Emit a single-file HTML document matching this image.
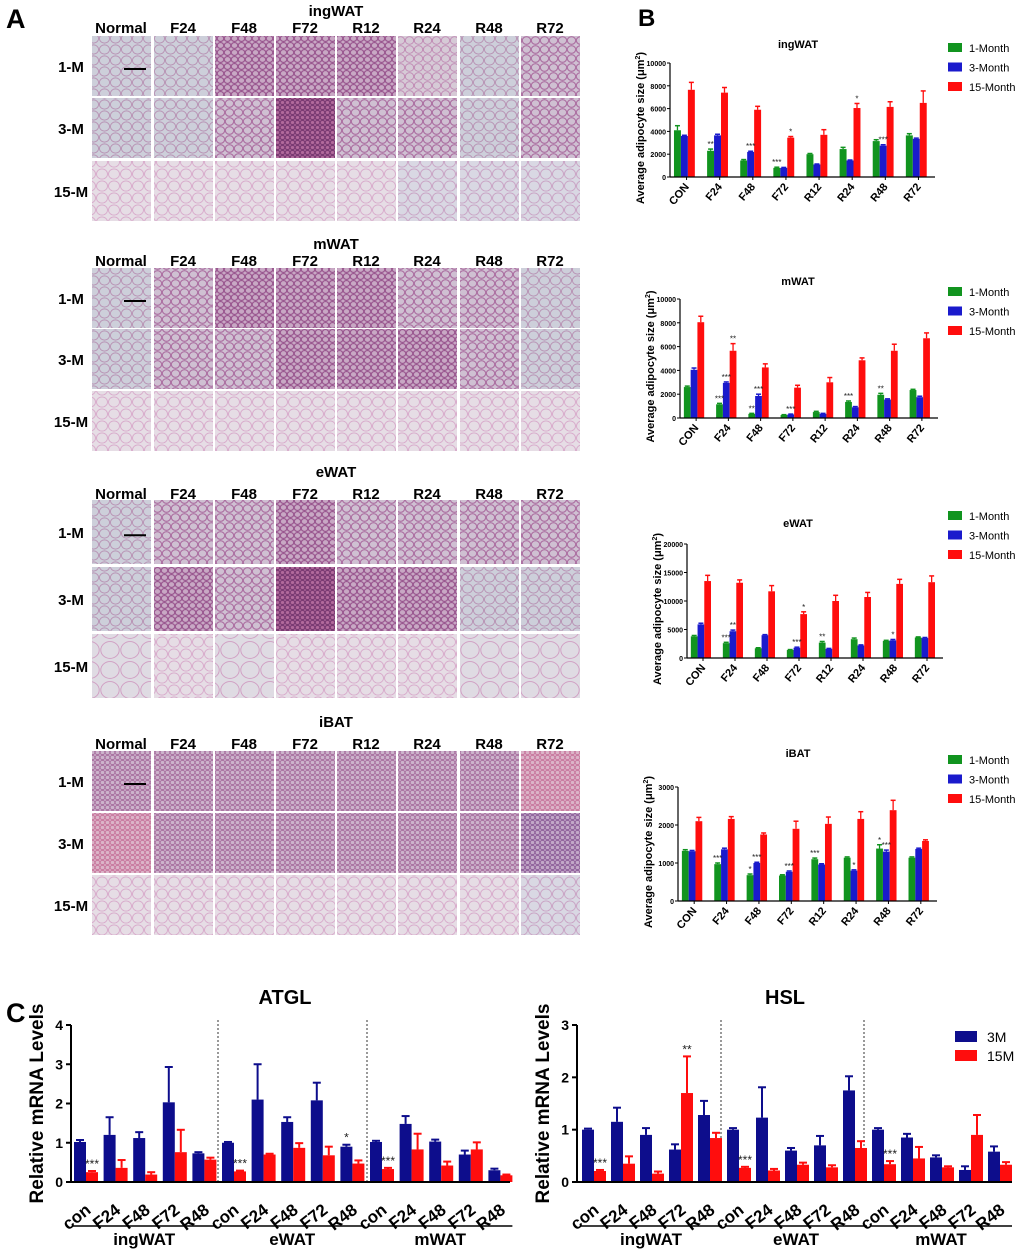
<!DOCTYPE html>
<html><head><meta charset="utf-8"><style>
html,body{margin:0;padding:0;background:#fff}
svg{display:block;font-family:"Liberation Sans",Arial,sans-serif}
</style></head><body>
<svg id="fig" width="1020" height="1253" viewBox="0 0 1020 1253" xmlns="http://www.w3.org/2000/svg">
<defs id="defs"></defs>
<g id="panelA"></g>
<g id="panelB"></g>
<g id="panelC"></g>
<text x="6" y="28" font-size="27" font-weight="bold">A</text>
<text x="638" y="26" font-size="24" font-weight="bold">B</text>
<text x="6" y="1022" font-size="27" font-weight="bold">C</text>
</svg>
<script>
// ---------- Panel B data ----------
const groupsB = ["CON","F24","F48","F72","R12","R24","R48","R72"];
const seriesNamesB = ["1-Month","3-Month","15-Month"];
const ing1M = [4100,2300,1450,800,2000,2450,3150,3650];
const ing3M = [3600,3650,2200,800,1100,1450,2750,3350];
const ing15M = [7650,7400,5900,3450,3700,6050,6150,6500];
const ing1Merr = [400,150,80,60,60,150,120,150];
const ing3Merr = [60,100,60,40,40,40,80,60];
const ing15Merr = [650,450,300,100,450,400,450,1050];
const mw1M = [2600,1150,350,250,500,1350,1950,2350];
const mw3M = [4050,2950,1850,300,350,900,1550,1750];
const mw15M = [8050,5650,4250,2550,3000,4850,5650,6700];
const mw1Merr = [80,80,40,30,60,80,120,60];
const mw3Merr = [150,80,150,30,40,60,60,80];
const mw15Merr = [500,600,300,200,400,200,550,450];
const ew1M = [3800,2600,1700,1400,2700,3300,3000,3600];
const ew3M = [5900,4700,4000,1800,1600,2200,3100,3500];
const ew15M = [13500,13200,11700,7700,10000,10700,13000,13300];
const ew1Merr = [150,150,100,80,200,200,100,100];
const ew3Merr = [200,200,100,100,80,100,150,100];
const ew15Merr = [1000,500,1000,400,1000,800,800,1100];
const ib1M = [1320,970,680,670,1100,1140,1380,1140];
const ib3M = [1310,1360,1000,770,960,800,1300,1370];
const ib15M = [2100,2160,1750,1900,2030,2160,2390,1580];
const ib1Merr = [30,30,30,20,30,20,100,20];
const ib3Merr = [20,30,20,20,20,20,40,20];
const ib15Merr = [100,60,40,200,180,190,260,30];
const ingTicks = [0,2000,4000,6000,8000,10000];
const mwTicks = [0,2000,4000,6000,8000,10000];
const ewTicks = [0,5000,10000,15000,20000];
const ibTicks = [0,1000,2000,3000];
// significance marks: [series, group, text]
const ingStars = [[0,1,"**"],[1,2,"***"],[0,3,"***"],[2,3,"*"],[2,5,"*"],[1,6,"***"]];
const mwStars = [[0,1,"***"],[1,1,"***"],[2,1,"**"],[0,2,"**"],[1,2,"***"],[1,3,"***"],[0,5,"***"],[0,6,"**"]];
const ewStars = [[0,1,"***"],[1,1,"**"],[1,3,"***"],[2,3,"*"],[0,4,"**"],[1,6,"*"]];
const ibStars = [[0,1,"***"],[0,2,"*"],[1,2,"***"],[1,3,"***"],[0,4,"***"],[1,5,"*"],[0,6,"*"],[1,6,"***"]];

// ---------- Panel C data ----------
const tissuesC = ["ingWAT","eWAT","mWAT"];
const groupsC = ["con","F24","F48","F72","R48"];
const atgl3M = [1.02,1.2,1.12,2.03,0.73, 1.0,2.1,1.53,2.08,0.9, 1.02,1.48,1.03,0.7,0.3];
const atgl3Merr = [0.05,0.45,0.15,0.9,0.03, 0.02,0.9,0.12,0.45,0.05, 0.03,0.2,0.05,0.1,0.04];
const atgl15M = [0.25,0.36,0.19,0.76,0.57, 0.27,0.7,0.87,0.68,0.47, 0.33,0.83,0.42,0.83,0.17];
const atgl15Merr = [0.03,0.2,0.06,0.57,0.05, 0.02,0.02,0.12,0.22,0.08, 0.03,0.4,0.1,0.18,0.02];
const hsl3M = [1.0,1.15,0.9,0.62,1.28, 1.0,1.23,0.6,0.7,1.75, 1.0,0.85,0.47,0.23,0.58];
const hsl3Merr = [0.02,0.27,0.13,0.1,0.27, 0.03,0.58,0.05,0.18,0.27, 0.03,0.07,0.04,0.07,0.1];
const hsl15M = [0.21,0.35,0.16,1.7,0.84, 0.27,0.22,0.33,0.28,0.65, 0.34,0.45,0.28,0.9,0.33];
const hsl15Merr = [0.02,0.14,0.04,0.7,0.1, 0.02,0.03,0.04,0.04,0.13, 0.06,0.22,0.02,0.38,0.05];
const atglTicks = [0,1,2,3,4];
const hslTicks = [0,1,2,3];
const atglStars = [[1,0,"***"],[1,5,"***"],[0,9,"*"],[1,10,"***"]];
const hslStars = [[1,0,"***"],[1,3,"**"],[1,5,"***"],[1,10,"***"]];

// ---------- Panel A tile types ----------
const colsA = ["Normal","F24","F48","F72","R12","R24","R48","R72"];
const rowsA = ["1-M","3-M","15-M"];
const ingTiles = ["nnddd" + "lnm","nnmDmmnm","pppppqqq"];
const mwTiles = ["nmdddmmn","nmmdddmn","pppppppp"];
const ewTiles = ["nmmdmmmm","ndmDddnn","LpLpppLL"];
const ibTiles = ["bbbbbbbr","rbbbbbbc","pppppppq"];

const NS="http://www.w3.org/2000/svg";
const svg=document.getElementById('fig');
const defs=document.getElementById('defs');
function mk(tag,attrs,parent){const e=document.createElementNS(NS,tag);for(const k in attrs)e.setAttribute(k,attrs[k]);(parent||svg).appendChild(e);return e;}
function txt(parent,x,y,s,attrs){const t=mk('text',Object.assign({x:x,y:y},attrs||{}),parent);t.textContent=s;return t;}

const tileStyles={
 n:{bg:"#cdcfda",st:"#b892b4",sz:11,sw:0.9},
 l:{bg:"#d6cad6",st:"#c08ab4",sz:9,sw:0.9},
 m:{bg:"#cfc0d2",st:"#ac70a2",sz:9,sw:1.1},
 d:{bg:"#c8a8c4",st:"#9a5890",sz:7,sw:1.2},
 D:{bg:"#b26a9c",st:"#7a3a72",sz:5,sw:1.2},
 p:{bg:"#e6dde5",st:"#d8aacb",sz:12,sw:0.9},
 q:{bg:"#d9d8e3",st:"#c9a2c4",sz:12,sw:0.9},
 L:{bg:"#dfdbe3",st:"#d09cc2",sz:20,sw:0.9},
 b:{bg:"#cdb4cc",st:"#a8709f",sz:5,sw:0.9},
 r:{bg:"#dcb4c8",st:"#c8789e",sz:5,sw:1},
 c:{bg:"#c2a8c8",st:"#8e609a",sz:5,sw:1}
};
for(const k in tileStyles){
 const s=tileStyles[k];
 const p=mk('pattern',{id:'pat-'+k,width:s.sz,height:s.sz,patternUnits:'userSpaceOnUse'},defs);
 mk('rect',{width:s.sz,height:s.sz,fill:s.bg},p);
 mk('ellipse',{cx:s.sz/2,cy:s.sz/2,rx:s.sz*0.46,ry:s.sz*0.42,fill:'none',stroke:s.st,'stroke-width':s.sw},p);
}

const colX=[92,154,215,276,337,398,460,521];
const gA=document.getElementById('panelA');
function grid(title,titleY,headerY,rowYs,rowH,tiles,secName){
 const g=mk('g',{},gA);
 
 
 const t=txt(g,336,titleY,title,{'font-size':15,'font-weight':'bold','text-anchor':'middle'});
 
 
 colsA.forEach((c,i)=>{
  const h=txt(g,colX[i]+29,headerY,c,{'font-size':15,'font-weight':'bold','text-anchor':'middle'});
  
  
 });
 rowsA.forEach((r,ri)=>{
  const l=txt(g,71,rowYs[ri]+rowH/2+6,r,{'font-size':15,'font-weight':'bold','text-anchor':'middle'});
  
  
  const codes=tiles[ri];
  for(let ci=0;ci<8;ci++){
   const rc=mk('rect',{x:colX[ci],y:rowYs[ri],width:59,height:rowH,fill:'url(#pat-'+codes[ci]+')'},g);
   
   
  }
 });
 const sb=mk('line',{x1:124,x2:146,y1:rowYs[0]+rowH*0.55,y2:rowYs[0]+rowH*0.55,stroke:'#000','stroke-width':2},g);
 
 
}
grid("ingWAT",16,33,[36,98,161],60,ingTiles,"ingwat");
grid("mWAT",249,266,[268,329,391],60,mwTiles,"mwat");
grid("eWAT",477,499,[500,567,634],64,ewTiles,"ewat");
grid("iBAT",727,749,[751,813,875],60,ibTiles,"ibat");

// ---------- Panel B charts ----------
const gB=document.getElementById('panelB');
const colB=["#11941f","#1a1acc","#ff0d0d"];
function chartB(name,ax,top,bot,endX,maxV,ticks,vals,errs,stars,titleY,legY){
 const g=mk('g',{},gB);
 
 
 const ys=v=>bot-(v/maxV)*(bot-top);
 const gw=(endX-ax)/groupsB.length;
 const bw=gw*0.21;
 const xs=(gi,si)=>ax+gw*gi+gw*0.12+bw*si;
 const tt=txt(g,798,titleY,name,{'font-size':11,'font-weight':'bold','text-anchor':'middle'});
 
 
 vals.forEach((arr,si)=>arr.forEach((v,gi)=>{
  const x=xs(gi,si);
  const e=errs[si][gi];
  const el=mk('line',{x1:x+bw/2,x2:x+bw/2,y1:ys(v),y2:ys(v+e),stroke:colB[si],'stroke-width':1.3},g);
  
  
  const ec=mk('line',{x1:x+bw/2-2.5,x2:x+bw/2+2.5,y1:ys(v+e),y2:ys(v+e),stroke:colB[si],'stroke-width':1.5},g);
  
  
  const r=mk('rect',{x:x,y:ys(v),width:bw,height:bot-ys(v),fill:colB[si]},g);
  
  
 }));
 stars.forEach(s=>{
  const v=vals[s[0]][s[1]]+errs[s[0]][s[1]];
  const st=txt(g,xs(s[1],s[0])+bw/2,ys(v)-2,s[2],{'font-size':8,'text-anchor':'middle',fill:'#222'});
  
  
 });
 mk('line',{x1:ax,x2:ax,y1:top,y2:bot,stroke:'#000','stroke-width':1.2},g);
 const xa=mk('line',{x1:ax,x2:endX,y1:bot,y2:bot,stroke:'#000','stroke-width':1.2},g);
 
 
 ticks.forEach(t=>{
  mk('line',{x1:ax-3,x2:ax,y1:ys(t),y2:ys(t),stroke:'#000'},g);
  const l=txt(g,ax-4,ys(t)+3,String(t),{'font-size':7,'font-weight':'bold','text-anchor':'end'});
  
  
 });
 groupsB.forEach((c,gi)=>{
  const cx=ax+gw*(gi+0.5);
  mk('line',{x1:cx,x2:cx,y1:bot,y2:bot+3,stroke:'#000'},g);
  const l=txt(g,cx+3,bot+10,c,{'font-size':11,'font-weight':'bold','text-anchor':'end',transform:'rotate(-50 '+(cx+3)+' '+(bot+10)+')'});
  
  
 });
 const yt=mk('text',{x:0,y:0,'font-size':11,'font-weight':'bold','text-anchor':'middle',transform:'translate('+(ax-26)+','+((top+bot)/2+8)+') rotate(-90)'},g);
 yt.innerHTML='Average adipocyte size (μm<tspan font-size="7" dy="-4">2</tspan><tspan dy="4">)</tspan>';
 
 
 seriesNamesB.forEach((s,si)=>{
  const lr=mk('rect',{x:948,y:legY+si*19.5-5,width:14,height:9,fill:colB[si]},g);
  
  
  const lt=txt(g,969,legY+si*19.5+4,s,{'font-size':11});
  
  
 });
}
chartB("ingWAT",670,63,177,935,10000,ingTicks,[ing1M,ing3M,ing15M],[ing1Merr,ing3Merr,ing15Merr],ingStars,48,48);
chartB("mWAT",680,299,418,938,10000,mwTicks,[mw1M,mw3M,mw15M],[mw1Merr,mw3Merr,mw15Merr],mwStars,285,292);
chartB("eWAT",687,544,658,943,20000,ewTicks,[ew1M,ew3M,ew15M],[ew1Merr,ew3Merr,ew15Merr],ewStars,527,516);
chartB("iBAT",678,787,901,937,3000,ibTicks,[ib1M,ib3M,ib15M],[ib1Merr,ib3Merr,ib15Merr],ibStars,757,760);

// ---------- Panel C charts ----------
const gC=document.getElementById('panelC');
const colC=["#0d0d8c","#ff0d0d"];
function chartC(name,ax,top,bot,endX,maxV,ticks,b3,b3e,r15,r15e,x0,step,dash,titleX,stars,legend){
 const g=mk('g',{},gC);
 
 
 const ys=v=>bot-(v/maxV)*(bot-top);
 const bw=12;
 const xs=(i,s)=>x0+step*i+s*bw;
 const tt=txt(g,titleX,1004,name,{'font-size':20,'font-weight':'bold','text-anchor':'middle'});
 
 
 dash.forEach(dx=>{const d=mk('line',{x1:dx,x2:dx,y1:top-5,y2:bot,stroke:'#333','stroke-width':1,'stroke-dasharray':'2,2'},g);
  });
 [[b3,b3e],[r15,r15e]].forEach((pair,si)=>pair[0].forEach((v,i)=>{
  const x=xs(i,si),e=pair[1][i];
  mk('line',{x1:x+bw/2,x2:x+bw/2,y1:ys(v),y2:ys(v+e),stroke:colC[si],'stroke-width':2},g);
  mk('line',{x1:x+bw/2-4,x2:x+bw/2+4,y1:ys(v+e),y2:ys(v+e),stroke:colC[si],'stroke-width':2},g);
  const r=mk('rect',{x:x,y:ys(v),width:bw,height:bot-ys(v),fill:colC[si]},g);
  
  
 }));
 stars.forEach(s=>{
  const arr=s[0]?r15:b3, ea=s[0]?r15e:b3e;
  const st=txt(g,xs(s[1],s[0])+bw/2,ys(arr[s[1]]+ea[s[1]])-3,s[2],{'font-size':12,'text-anchor':'middle',fill:'#222'});
  
  
 });
 mk('line',{x1:ax,x2:ax,y1:top,y2:bot,stroke:'#000','stroke-width':2},g);
 const xa=mk('line',{x1:ax,x2:endX,y1:bot,y2:bot,stroke:'#000','stroke-width':2},g);
 
 ticks.forEach(t=>{
  mk('line',{x1:ax-5,x2:ax,y1:ys(t),y2:ys(t),stroke:'#000','stroke-width':2},g);
  const l=txt(g,ax-8,ys(t)+5,String(t),{'font-size':14,'font-weight':'bold','text-anchor':'end'});
  
 });
 const yt=txt(g,0,0,'Relative mRNA Levels',{'font-size':19,'font-weight':'bold','text-anchor':'middle',transform:'translate('+(ax-28)+','+((top+bot)/2)+') rotate(-90)'});
 
 for(let i=0;i<15;i++){
  const cx=xs(i,0)+bw+6, cy=bot+30;
  const l=txt(g,cx,cy,groupsC[i%5],{'font-size':17,'font-weight':'bold','text-anchor':'end',transform:'rotate(-38 '+cx+' '+cy+')'});
  
 }
 tissuesC.forEach((t,k)=>{
  const xa0=xs(k*5,0)-2, xa1=xs(k*5+4,1)+bw;
  mk('line',{x1:xa0,x2:xa1,y1:1226,y2:1226,stroke:'#000','stroke-width':1.5},g);
  const l=txt(g,(xa0+xa1)/2,1245,t,{'font-size':17,'font-weight':'bold','text-anchor':'middle'});
  
 });
 if(legend){
  ["3M","15M"].forEach((s,si)=>{
   const r=mk('rect',{x:955,y:1031+si*19,width:22,height:11,fill:colC[si]},g);
   
   const l=txt(g,987,1042+si*19,s,{'font-size':14});
   
  });
 }
}
chartC("ATGL",71,1025,1182,510,4,atglTicks,atgl3M,atgl3Merr,atgl15M,atgl15Merr,74,29.6,[218,367],285,atglStars,false);
chartC("HSL",577,1025,1182,1012,3,hslTicks,hsl3M,hsl3Merr,hsl15M,hsl15Merr,582,29,[721,864],785,hslStars,true);
</script>
</body></html>
